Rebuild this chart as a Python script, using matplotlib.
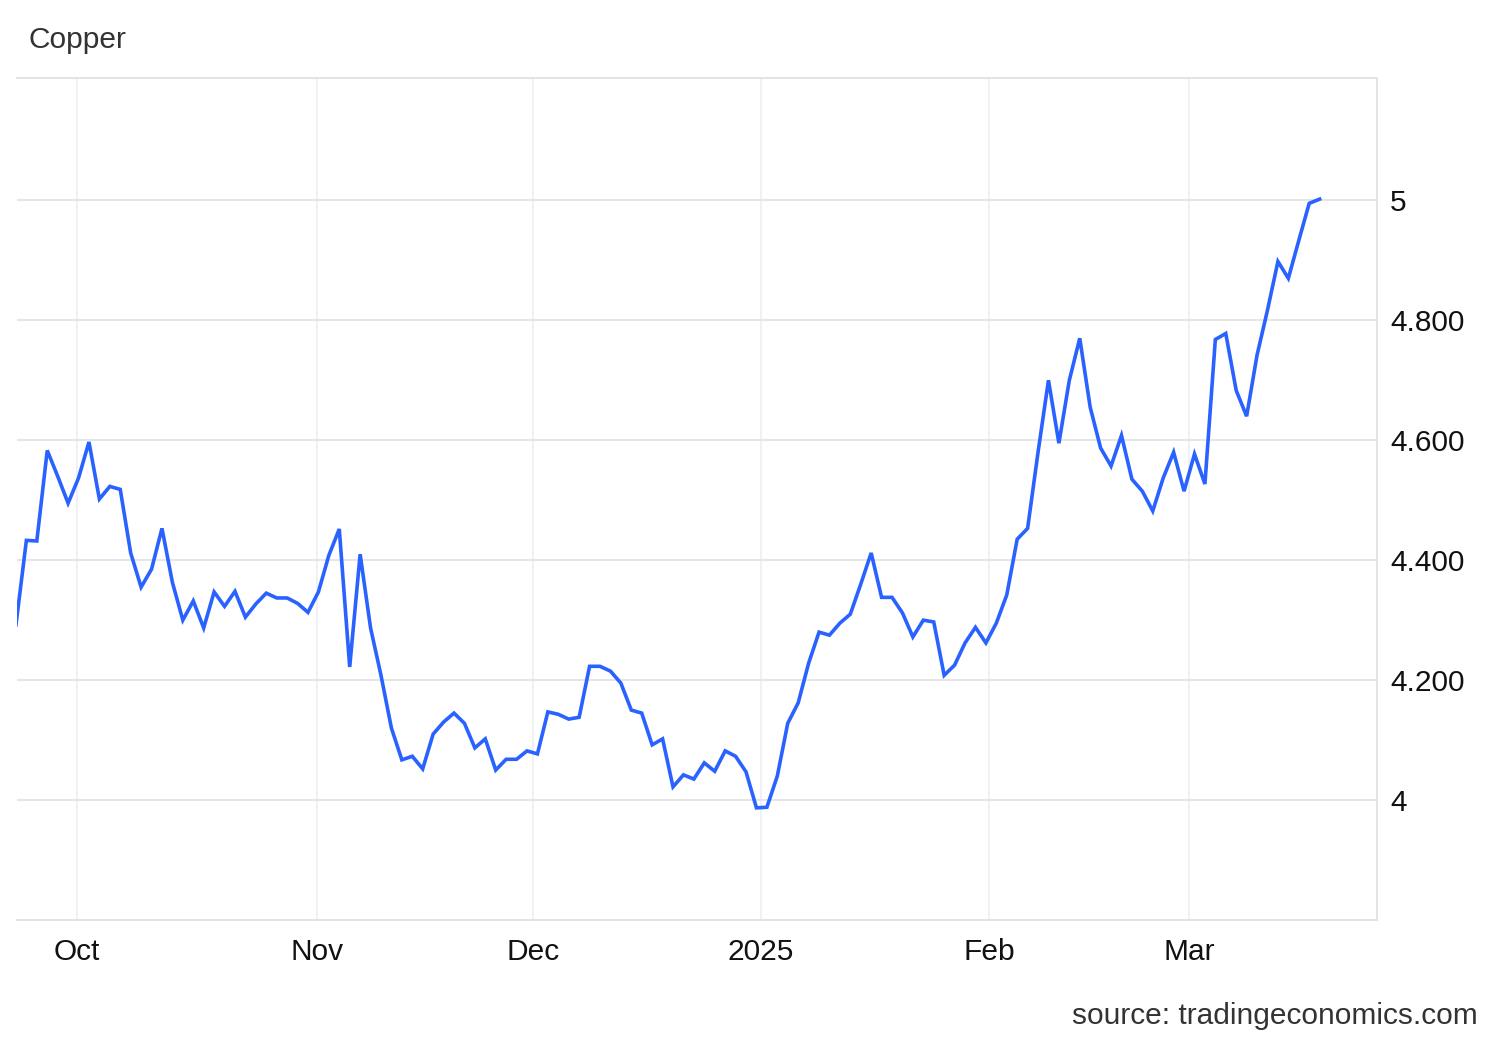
import numpy as np
import matplotlib.pyplot as plt

plt.rcParams['font.family'] = ['Liberation Sans', 'DejaVu Sans']

# daily copper price (USD/lb), one value per trading session
prices = [
    4.292, 4.433, 4.432, 4.583, 4.540, 4.495, 4.537, 4.597, 4.502, 4.523,
    4.518, 4.412, 4.355, 4.385, 4.453, 4.363, 4.300, 4.332, 4.287, 4.347,
    4.323, 4.348, 4.305, 4.327, 4.345, 4.337, 4.337, 4.328, 4.313, 4.347,
    4.408, 4.452, 4.222, 4.410, 4.287, 4.208, 4.120, 4.067, 4.073, 4.052,
    4.110, 4.130, 4.145, 4.128, 4.087, 4.102, 4.050, 4.068, 4.068, 4.082,
    4.077, 4.147, 4.143, 4.135, 4.138, 4.223, 4.223, 4.215, 4.195, 4.150,
    4.145, 4.092, 4.102, 4.022, 4.042, 4.035, 4.062, 4.048, 4.082, 4.073,
    4.047, 3.987, 3.988, 4.040, 4.128, 4.162, 4.228, 4.280, 4.275, 4.295,
    4.310, 4.360, 4.412, 4.338, 4.338, 4.312, 4.272, 4.300, 4.297, 4.208,
    4.225, 4.262, 4.288, 4.262, 4.295, 4.342, 4.435, 4.453, 4.580, 4.700,
    4.595, 4.700, 4.770, 4.655, 4.587, 4.557, 4.608, 4.535, 4.515, 4.482,
    4.537, 4.580, 4.515, 4.577, 4.527, 4.768, 4.778, 4.683, 4.640, 4.742,
    4.817, 4.898, 4.870, 4.933, 4.995, 5.002,
]

# month boundaries on the trading-day axis
month_pos = [5.85, 28.86, 49.57, 71.43, 93.29, 112.46]
month_labels = ['Oct', 'Nov', 'Dec', '2025', 'Feb', 'Mar']

y_ticks = [4.0, 4.2, 4.4, 4.6, 4.8, 5.0]
y_labels = ['4', '4.200', '4.400', '4.600', '4.800', '5']

W, H = 1500, 1040
fig = plt.figure(figsize=(W / 100, H / 100), dpi=100)
ax = fig.add_axes([17 / W, 1 - 920 / H, (1377 - 17) / W, (920 - 78) / H])

x = np.arange(len(prices))
ax.plot(x, prices, color='#2962ff', linewidth=2.6, solid_joinstyle='miter', zorder=3)

ax.set_xlim(0.1, 130.5)
ax.set_ylim(3.8, 5.204)

ax.set_yticks(y_ticks)
ax.set_yticklabels(y_labels)
ax.yaxis.tick_right()
ax.set_xticks(month_pos)
ax.set_xticklabels(month_labels)
ax.tick_params(axis='both', length=0, labelsize=21.5, colors='#111111')
ax.tick_params(axis='y', pad=9.5)
ax.tick_params(axis='x', pad=13)

ax.grid(axis='y', color='#e6e6e6', linewidth=1.4)
ax.grid(axis='x', color='#eef1f5', linewidth=1.4)
ax.set_axisbelow(True)

ax.spines['left'].set_visible(False)
for s in ['top', 'bottom', 'right']:
    ax.spines[s].set_color('#e3e3e3')
    ax.spines[s].set_linewidth(1.4)

fig.text(29 / W, 1 - 40 / H, 'Copper', fontsize=21.5, color='#333333',
         ha='left', va='center')
fig.text(1478 / W, 1 - 1016 / H, 'source: tradingeconomics.com', fontsize=21.5,
         color='#333333', ha='right', va='center')

fig.savefig('out.png', dpi=100)
